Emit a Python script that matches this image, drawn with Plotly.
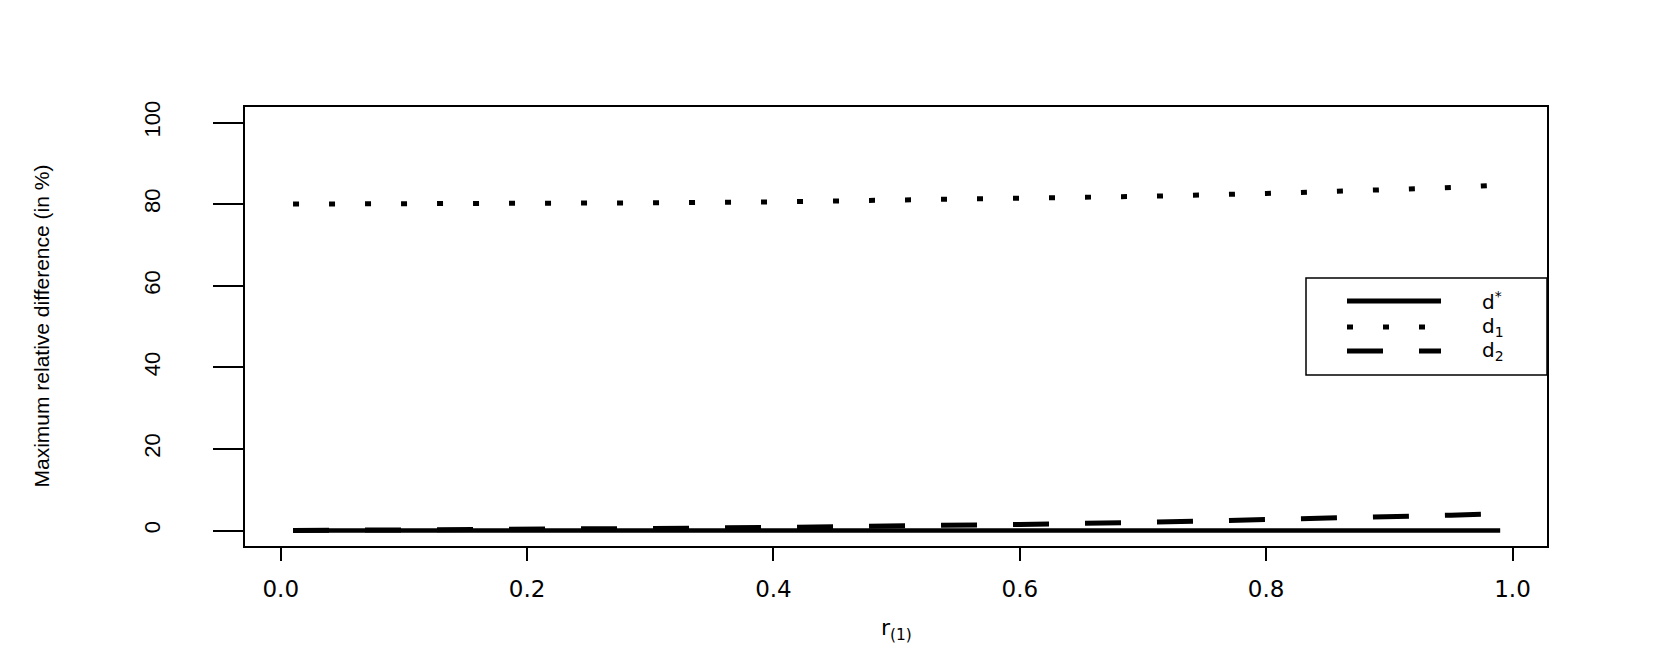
import plotly.graph_objects as go

# r(1) grid and the three curves
r1 = [0.01, 0.1, 0.2, 0.3, 0.4, 0.5, 0.55, 0.6, 0.7, 0.8, 0.9, 0.95, 0.99]
d_star = [0.0, 0.0, 0.0, 0.0, 0.0, 0.0, 0.0, 0.0, 0.0, 0.0, 0.0, 0.0, 0.0]
d1 = [80.0, 80.05, 80.15, 80.3, 80.55, 80.9, 81.1, 81.35, 81.9, 82.6, 83.5, 84.05, 84.7]
d2 = [0.0, 0.1, 0.3, 0.5, 0.75, 1.0, 1.22, 1.5, 1.98, 2.6, 3.35, 3.75, 4.1]

x_ticks = [0.0, 0.2, 0.4, 0.6, 0.8, 1.0]
x_ticklabels = ["0.0", "0.2", "0.4", "0.6", "0.8", "1.0"]
y_ticks = [0, 20, 40, 60, 80, 100]
y_ticklabels = ["0", "20", "40", "60", "80", "100"]

legend_labels = ["d<sup>*</sup>", "d<sub>1</sub>", "d<sub>2</sub>"]
legend_dash = ["solid", "6px,30px", "36px,36px"]

W, H = 1661, 664
L, R, T, B = 237, 122, 99, 126
pw, ph = W - L - R, H - T - B

def px(x):
    return (x - L) / pw

def py(y):
    return (H - B - y) / ph

fig = go.Figure()
fig.add_trace(go.Scatter(x=r1, y=d_star, mode="lines",
                         line=dict(color="black", width=4.5)))
fig.add_trace(go.Scatter(x=r1, y=d1, mode="lines",
                         line=dict(color="black", width=5, dash="6px,30px")))
fig.add_trace(go.Scatter(x=r1, y=d2, mode="lines",
                         line=dict(color="black", width=5, dash="36px,36px")))

# hand-built legend box so the line samples can be as long as in the original
shapes = [dict(type="rect", xref="paper", yref="paper",
               x0=px(1298), x1=px(1539), y0=py(367), y1=py(270),
               line=dict(color="black", width=1.5), fillcolor="white", layer="above")]
annotations = []
rows = [293, 319, 343]
for lab, dash, yy in zip(legend_labels, legend_dash, rows):
    shapes.append(dict(type="line", xref="paper", yref="paper",
                       x0=px(1339), x1=px(1433), y0=py(yy), y1=py(yy),
                       line=dict(color="black", width=5, dash=dash), layer="above"))
    annotations.append(dict(text=lab, xref="paper", yref="paper",
                            x=px(1472), y=py(yy), xanchor="left", yanchor="middle",
                            showarrow=False,
                            font=dict(family="DejaVu Sans", size=20, color="black")))

annotations.append(dict(text="r<sub>(1)</sub>", xref="paper", yref="paper",
                        x=0.5, y=py(621), xanchor="center", yanchor="middle",
                        showarrow=False,
                        font=dict(family="DejaVu Sans", size=22, color="black")))
annotations.append(dict(text="Maximum relative difference (in %)", xref="paper", yref="paper",
                        x=px(33), y=0.5, xanchor="center", yanchor="middle",
                        textangle=-90, showarrow=False,
                        font=dict(family="Liberation Sans", size=21, color="black")))

fig.update_layout(
    width=W, height=H,
    margin=dict(l=L, r=R, t=T, b=B),
    paper_bgcolor="white", plot_bgcolor="white",
    showlegend=False,
    shapes=shapes,
    annotations=annotations,
    xaxis=dict(range=[-0.029, 1.028], tickvals=x_ticks, ticktext=x_ticklabels,
               showgrid=False, zeroline=False, showline=True, mirror=True,
               linecolor="black", linewidth=2, ticks="outside", ticklen=13,
               tickwidth=1.5, tickcolor="black", ticklabelstandoff=8,
               tickfont=dict(family="DejaVu Sans", size=23, color="black")),
    yaxis=dict(range=[-3.8, 103.8], tickvals=y_ticks, ticktext=y_ticklabels,
               showgrid=False, zeroline=False, showline=True, mirror=True,
               linecolor="black", linewidth=2, ticks="outside", ticklen=30,
               tickwidth=1.5, tickcolor="black", tickangle=-90, ticklabelstandoff=44,
               tickfont=dict(family="Liberation Sans", size=22, color="black")),
)

fig.write_html("out.html")
